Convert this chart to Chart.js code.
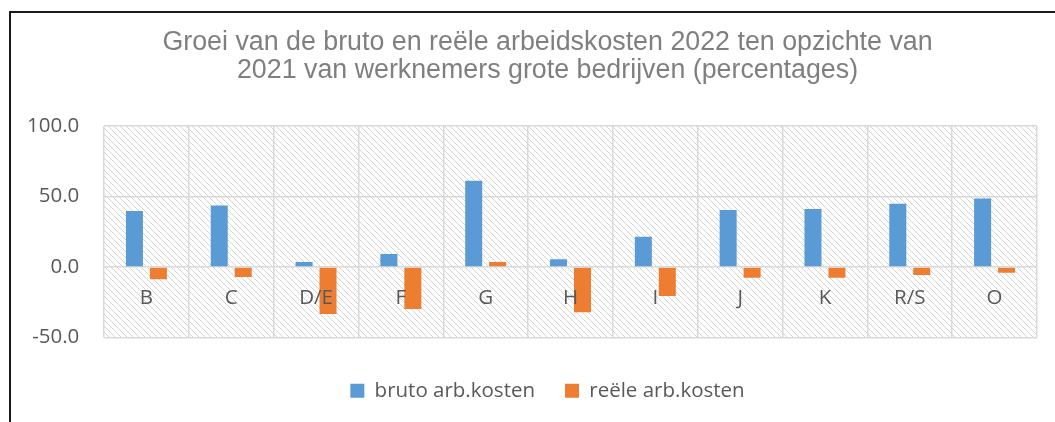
<!DOCTYPE html>
<html>
<head>
<meta charset="utf-8">
<script src="https://cdn.jsdelivr.net/npm/chart.js@4/dist/chart.umd.min.js"></script>
<style>
  html, body { margin: 0; padding: 0; background: #fff; overflow: hidden; width: 1055px; height: 422px; }
  #wrap { position: absolute; left: 0; top: 0; width: 1100px; height: 422px; }
  #frame { position: absolute; left: 9px; top: 11px; width: 1200px; height: 500px;
           border-left: 2px solid #1a1a1a; border-top: 2px solid #1a1a1a; pointer-events: none; }
</style>
</head>
<body>
<div id="wrap"><canvas id="c" width="1100" height="422"></canvas></div>
<div id="frame"></div>
<script>
const categories = ['B', 'C', 'D/E', 'F', 'G', 'H', 'I', 'J', 'K', 'R/S', 'O'];
const brutoArbKosten = [39.8, 43.6, 3.6, 9.3, 61.2, 5.5, 21.4, 40.5, 41.2, 44.8, 48.6];
const reeleArbKosten = [-8.6, -7.1, -33.3, -29.7, 3.6, -32.1, -20.5, -7.6, -7.6, -5.7, -4.0];
const seriesNames = ['bruto arb.kosten', 'reële arb.kosten'];
const titleLines = ['Groei van de bruto en reële arbeidskosten 2022 ten opzichte van',
                    '2021 van werknemers grote bedrijven (percentages)'];
const yMin = -50, yMax = 100, yStep = 50;

function makeHatch() {
  const t = document.createElement('canvas');
  t.width = 6; t.height = 6;
  const g = t.getContext('2d');
  g.fillStyle = '#ffffff';
  g.fillRect(0, 0, 6, 6);
  g.fillStyle = '#d4d4d4';
  for (let i = 0; i < 6; i++) { g.fillRect(i, i, 1, 1); }
  return g.createPattern(t, 'repeat');
}

const hatchPlugin = {
  id: 'hatch',
  beforeDraw(chart) {
    const {ctx, chartArea: a} = chart;
    ctx.save();
    ctx.fillStyle = makeHatch();
    ctx.fillRect(a.left, a.top, a.right - a.left, a.bottom - a.top);
    ctx.restore();
  }
};

const txt = '#595959';
const grid = '#d9d9d9';
const fam = '"Open Sans", sans-serif';
const padLeft = 58;

new Chart(document.getElementById('c'), {
  type: 'bar',
  data: {
    labels: categories,
    datasets: [
      { label: seriesNames[0], data: brutoArbKosten, backgroundColor: '#5B9BD5', categoryPercentage: 0.565, barPercentage: 0.71 },
      { label: seriesNames[1], data: reeleArbKosten, backgroundColor: '#ED7D31', categoryPercentage: 0.565, barPercentage: 0.71 }
    ]
  },
  options: {
    responsive: false,
    animation: false,
    layout: { padding: { left: padLeft, right: 63, top: 0, bottom: 11 } },
    plugins: {
      title: {
        display: true,
        text: titleLines,
        color: '#7f7f7f',
        font: { family: '"Liberation Sans", Arial, sans-serif', size: 26.8, weight: 'normal', lineHeight: 1.045 },
        padding: { top: 29, bottom: 41 }
      },
      legend: {
        position: 'bottom',
        title: { display: true, text: '', font: { size: 1, lineHeight: 1 }, padding: { top: 12, bottom: 0 } },
        labels: {
          color: txt,
          font: { family: fam, size: 20.5 },
          boxWidth: 14, boxHeight: 14,
          padding: 30
        }
      },
      tooltip: { enabled: false }
    },
    scales: {
      x: {
        position: { y: 0 },
        grid: { color: grid, lineWidth: 1.5, drawTicks: false, offset: true },
        border: { display: false },
        ticks: { z: 1, color: txt, font: { family: fam, size: 20.5 }, padding: 19, maxRotation: 0 }
      },
      y: {
        min: yMin, max: yMax,
        afterFit(s) { s.width = 104 - padLeft; },
        grid: { color: grid, lineWidth: 1.5, drawTicks: false },
        border: { display: false },
        ticks: {
          stepSize: yStep, color: txt,
          mirror: true, crossAlign: 'far', padding: -77,
          font: { family: fam, size: 20.5 },
          callback: v => Number(v).toFixed(1)
        }
      }
    }
  },
  plugins: [hatchPlugin]
});
</script>
</body>
</html>
